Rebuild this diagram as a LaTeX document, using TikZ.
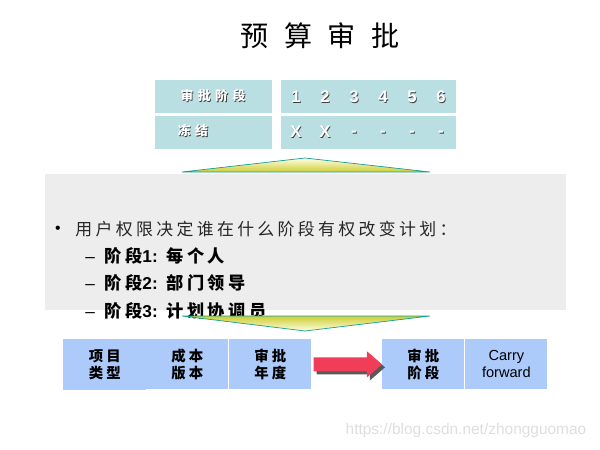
\documentclass[tikz,border=0pt]{standalone}
\usepackage{fontspec}
\setmainfont{Liberation Sans}
\newfontfamily\cjk{Noto Sans CJK SC}
\newfontfamily\cjkbul[LetterSpace=20]{Noto Sans CJK SC}
\newfontfamily\cjksub[LetterSpace=20]{Noto Sans CJK SC}
\newfontfamily\cjktbl[LetterSpace=35]{Noto Sans CJK SC}
\newfontfamily\cjkbox[LetterSpace=22]{Noto Sans CJK SC}
\usetikzlibrary{calc}

\definecolor{tblue}{RGB}{186,223,227}
\definecolor{bblue}{RGB}{173,203,250}
\definecolor{panelgray}{RGB}{237,237,237}
\definecolor{tline}{RGB}{20,160,150}
\definecolor{oliveyel}{RGB}{205,205,55}
\definecolor{arrowred}{RGB}{240,62,88}

\newcommand\shd[1]{\makebox[0pt][l]{\hspace{0.45pt}\raisebox{-0.45pt}{\color{black!75}#1}}#1}

\tikzset{
  tcell/.style={fill=tblue, anchor=north west, inner sep=0, minimum height=33*0.02cm},
  ttext/.style={text=white, font=\bfseries\fontsize{9.5}{10}\selectfont, inner sep=0},
  bcell/.style={fill=bblue, anchor=north west, inner sep=0, minimum height=50*0.02cm,
    align=center, font=\cjkbox\bfseries\fontsize{8.2}{9.8}\selectfont},
}

\begin{document}
\begin{tikzpicture}[x=0.02cm,y=-0.02cm]
\useasboundingbox (0,0) rectangle (600,450);

\node (title) at (320,36) {\cjk\fontsize{16}{18}\selectfont 预\hspace{0.55em}算\hspace{0.55em}审\hspace{0.55em}批};

% table
\node[tcell, minimum width=117*0.02cm] (hdr) at (155,80) {};
\node[tcell, minimum width=175*0.02cm] (nums) at (281,80) {};
\node[tcell, minimum width=117*0.02cm] (frz) at (155,116) {};
\node[tcell, minimum width=175*0.02cm] (frzv) at (281,116) {};

\node[ttext] (hdrtxt) at (213,96) {\cjktbl\bfseries\fontsize{7.3}{8}\selectfont\shd{审批阶段}};
\node[ttext] (frztxt) at (193,131) {\cjktbl\bfseries\fontsize{7.3}{8}\selectfont\shd{冻结}};
\foreach \n [count=\i] in {1,...,6}
  \node[ttext] (num\n) at (267+29*\i,97) {\shd{\n}};
\node[ttext] (v1) at (296,132) {\shd{X}};
\node[ttext] (v2) at (325,132) {\shd{X}};
\foreach \n [count=\i] in {3,...,6}
  \node[ttext] (v\n) at (325+29*\i,134) {\shd{-}};

% up arrow
\shade[top color=yellow!12, bottom color=oliveyel, draw=tline] (182,172) -- (305,158) -- (430,172) -- cycle;

% text panel
\fill[panelgray] (45,174) rectangle (566,310);
\node[anchor=center, inner sep=0] (dot) at (58,230) {\fontsize{9}{10}\selectfont •};
\node[anchor=west, inner sep=0, text=black!85] (rights) at (75,229)
  {\cjkbul\fontsize{9.6}{10}\selectfont 用户权限决定谁在什么阶段有权改变计划：};
\foreach \y/\s/\t [count=\i] in {256/1/每个人, 283/2/部门领导, 311/3/计划协调员}
  \node[anchor=base west, inner sep=0] (stage\i) at (85,\y+6)
    {\fontsize{9.8}{10}\selectfont –\hspace{5.5pt}\cjksub\bfseries 阶段{\rmfamily\bfseries\s:}\hspace{5pt}\t};

% down arrow
\shade[top color=oliveyel, bottom color=yellow!12, draw=tline] (182,316) -- (430,316) -- (305,331) -- cycle;

% bottom row
\node[bcell, minimum width=83*0.02cm, minimum height=51*0.02cm] (typ) at (63,339) {项目\\类型};
\node[bcell, minimum width=82*0.02cm] (ver) at (146,339) {成本\\版本};
\node[bcell, minimum width=82*0.02cm] (yr) at (229,339) {审批\\年度};
\node[bcell, minimum width=82*0.02cm] (stg) at (382,339) {审批\\阶段};
\node[bcell, minimum width=82*0.02cm, font=\fontsize{8.3}{9.8}\selectfont] (carry) at (465,339) {Carry\\forward};

\foreach \c/\dx in {black!65/3, arrowred/0}
  \fill[\c] ($(yr.east)+(2+\dx,-7+\dx)$) -- ($(stg.west)+(-15+\dx,-7+\dx)$) -- ($(stg.west)+(-15+\dx,-13+\dx)$)
    -- ($(stg.west)+(\dx,\dx)$) -- ($(stg.west)+(-15+\dx,13+\dx)$) -- ($(stg.west)+(-15+\dx,7+\dx)$)
    -- ($(yr.east)+(2+\dx,7+\dx)$) -- cycle;

\node[text=black!13, inner sep=0] (mark) at (466,431) {\fontsize{8.8}{9}\selectfont https://blog.csdn.net/zhongguomao};
\end{tikzpicture}
\end{document}
